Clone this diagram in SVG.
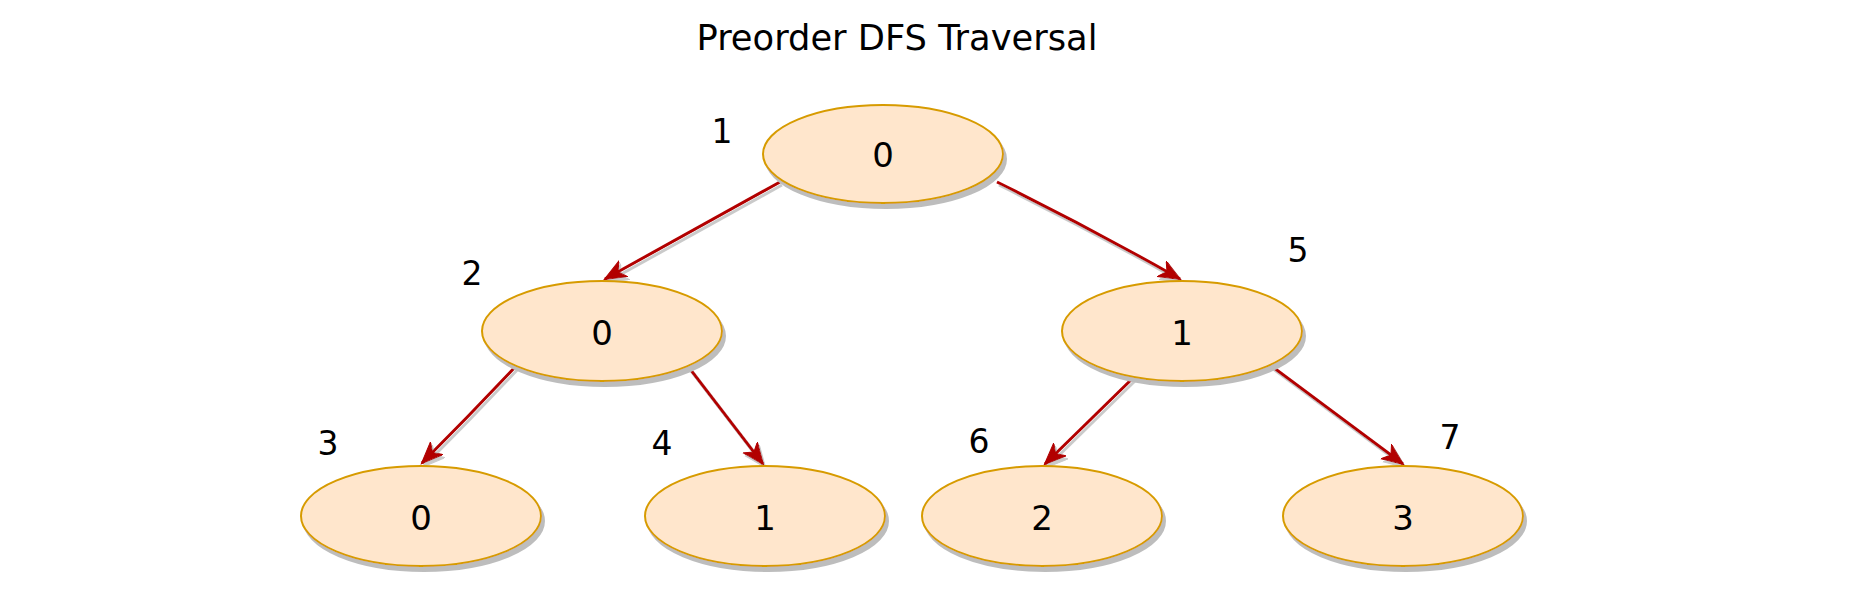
<svg xmlns="http://www.w3.org/2000/svg" width="1856" height="594" viewBox="0 0 1856 594">
  <style>
    .node ellipse { fill: #FFE6CC; stroke: #D79B00; stroke-width: 2; filter: url(#shadow); }
    .node text { font-family: "DejaVu Sans", "Liberation Sans", sans-serif; font-size: 34px; fill: #000; text-anchor: middle; }
    .order { font-family: "DejaVu Sans", "Liberation Sans", sans-serif; font-size: 33px; fill: #000; text-anchor: middle; }
    .title { font-family: "DejaVu Sans", "Liberation Sans", sans-serif; font-size: 35px; fill: #000; text-anchor: middle; }
    .edge { fill: none; stroke: #B20000; stroke-width: 3; marker-end: url(#arrow); filter: url(#eshadow); }
  </style>
  <defs>
    <filter id="shadow" x="-20%" y="-20%" width="140%" height="150%">
      <feDropShadow dx="3" dy="5" stdDeviation="0.5" flood-color="#bdbdbd" flood-opacity="1"/>
    </filter>
    <filter id="eshadow" x="-20%" y="-20%" width="140%" height="150%">
      <feDropShadow dx="2" dy="3" stdDeviation="0.6" flood-color="#bdbdbd" flood-opacity="0.8"/>
    </filter>
    <marker id="arrow" markerUnits="userSpaceOnUse" markerWidth="24" markerHeight="20" refX="21" refY="9" orient="auto">
      <path d="M0,0 L22,9 L0,18 L6,9 Z" fill="#B20000" stroke="#B20000" stroke-width="1"/>
    </marker>
  </defs>
  <rect width="1856" height="594" fill="#ffffff"/>

  <text id="title" class="title" x="897" y="50" textLength="401" lengthAdjust="spacingAndGlyphs">Preorder DFS Traversal</text>

  <g id="connectors">
    <path id="e-root-l" class="edge" d="M780,182 Q700,226 605,279"/>
    <path id="e-root-r" class="edge" d="M997,182 Q1090,228 1180,279"/>
    <path id="e-l-a" class="edge" d="M517,365 Q470,415 422,463"/>
    <path id="e-l-b" class="edge" d="M687,365 L763,464"/>
    <path id="e-r-c" class="edge" d="M1135,376 L1045,464"/>
    <path id="e-r-d" class="edge" d="M1270,365 L1403,464"/>
  </g>

  <g id="node-root" class="node">
    <ellipse cx="883" cy="154" rx="120" ry="49"/>
    <text x="883" y="167">0</text>
  </g>
  <g id="node-l1-left" class="node">
    <ellipse cx="602" cy="331" rx="120" ry="50"/>
    <text x="602" y="345">0</text>
  </g>
  <g id="node-l1-right" class="node">
    <ellipse cx="1182" cy="331" rx="120" ry="50"/>
    <text x="1182" y="345">1</text>
  </g>
  <g id="node-l2-a" class="node">
    <ellipse cx="421" cy="516" rx="120" ry="50"/>
    <text x="421" y="530">0</text>
  </g>
  <g id="node-l2-b" class="node">
    <ellipse cx="765" cy="516" rx="120" ry="50"/>
    <text x="765" y="530">1</text>
  </g>
  <g id="node-l2-c" class="node">
    <ellipse cx="1042" cy="516" rx="120" ry="50"/>
    <text x="1042" y="530">2</text>
  </g>
  <g id="node-l2-d" class="node">
    <ellipse cx="1403" cy="516" rx="120" ry="50"/>
    <text x="1403" y="530">3</text>
  </g>

  <g id="order-labels">
    <text class="order" x="722" y="143">1</text>
    <text class="order" x="472" y="285">2</text>
    <text class="order" x="328" y="455">3</text>
    <text class="order" x="662" y="455">4</text>
    <text class="order" x="1298" y="262">5</text>
    <text class="order" x="979" y="453">6</text>
    <text class="order" x="1450" y="449">7</text>
  </g>
</svg>
